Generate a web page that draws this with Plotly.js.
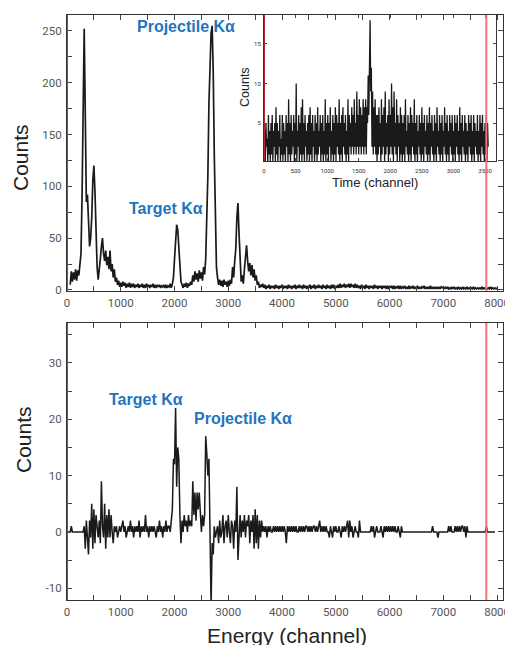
<!DOCTYPE html>
<html>
<head>
<meta charset="utf-8">
<script src="https://cdn.plot.ly/plotly-3.0.1.min.js"></script>
<style>
  html, body { margin: 0; padding: 0; background: #fff; }
  #chart { width: 505px; height: 645px; }
</style>
</head>
<body>
<div id="chart"></div>
<script>
// ---------- DATA ----------
// Top panel: energy spectrum, channels 60..8000 every 20 channels
const topStart = 60;
const topStep = 20;
const topCounts = [
  5,18,8,17,10,20,9,19,14,24,35,90,200,252,170,85,92,60,42,50,
  70,105,120,95,55,22,10,18,30,42,50,35,28,38,24,32,20,38,18,25,
  12,20,8,12,5,9,3,7,3,8,4,7,2,6,3,7,2,6,3,6,
  2,5,3,6,2,5,3,6,2,5,2,6,3,5,2,5,3,6,2,5,
  2,5,3,5,2,4,3,5,2,5,2,4,3,6,2,6,12,30,52,63,
  58,40,18,8,5,2,6,3,7,2,6,4,8,5,14,8,18,10,16,8,
  19,11,17,9,22,15,30,60,110,180,225,248,255,210,130,60,22,12,5,10,
  4,9,3,10,5,8,3,9,4,10,6,22,12,28,40,70,84,55,22,8,
  14,6,20,32,43,28,18,26,14,24,12,20,9,14,5,8,2,5,3,6,
  2,5,1,4,2,5,1,4,2,4,1,5,2,4,1,4,2,5,1,4,
  2,4,1,5,2,4,1,4,2,5,1,4,2,5,2,4,1,5,2,4,
  1,4,2,5,1,4,2,5,1,4,2,5,2,4,1,5,2,4,1,5,
  2,4,1,5,2,5,1,4,2,5,2,6,2,5,3,6,2,5,3,6,
  2,6,3,5,2,6,2,5,2,4,1,5,2,4,1,5,2,4,1,4,
  2,4,1,5,2,4,1,4,2,4,1,4,2,4,1,4,1,4,2,4,
  1,4,1,3,2,4,1,4,1,3,2,4,1,3,1,4,1,3,2,4,
  1,3,1,4,1,3,1,3,2,4,1,3,1,3,1,4,1,3,1,3,
  1,3,1,3,1,3,2,3,1,3,1,3,1,2,1,3,1,3,1,2,
  1,3,1,2,1,3,1,2,1,3,1,2,1,2,1,3,1,2,1,2,
  1,2,1,3,1,2,1,2,1,2,1,3,1,2,1,2,1,2
];

// Inset: time spectrum, channels 0..3550 every 10 channels
const insetStart = 0;
const insetStep = 10;
const insetCounts = [
  1,4,0,5,2,3,0,6,1,4,0,5,1,6,0,4,2,5,0,7,
  1,5,0,4,2,6,0,3,1,6,0,5,1,4,0,6,2,5,0,8,
  1,5,0,6,1,4,2,6,0,5,1,10,0,4,2,6,0,5,1,7,
  0,8,1,5,0,6,2,4,0,5,1,6,0,7,1,5,0,6,2,4,
  0,6,1,5,0,7,1,4,2,6,0,5,1,6,0,4,1,8,0,5,
  1,6,0,5,2,7,0,4,1,6,0,5,1,7,0,6,2,5,1,8,
  0,5,1,6,0,7,2,5,1,6,0,4,1,8,0,6,2,5,1,7,
  2,6,1,8,2,5,1,9,2,6,1,8,2,7,1,6,2,8,1,7,
  2,8,1,7,5,11,6,12,18,9,12,2,9,1,7,2,8,1,6,0,
  6,1,7,2,5,0,8,1,6,2,7,0,9,1,5,2,6,0,8,1,
  6,2,10,1,7,0,9,2,5,1,8,0,6,2,5,0,7,1,6,0,
  5,1,6,0,8,2,4,1,6,0,5,1,7,0,6,2,5,1,8,0,
  5,1,6,0,4,2,6,1,5,0,7,1,5,0,6,2,4,1,6,0,
  5,1,7,0,5,2,6,1,4,0,6,1,5,0,7,2,4,1,6,0,
  5,1,6,0,4,2,7,1,5,0,6,1,4,0,6,2,5,1,6,0,
  4,1,6,0,5,2,6,1,4,0,7,1,5,0,6,2,4,1,6,0,
  5,1,4,0,6,2,5,1,6,0,4,1,6,0,5,2,4,1,6,0,
  4,1,6,0,5,2,6,1,4,0,5,1,6,0,5,2
];

// Bottom panel: difference spectrum, channels 0..7960 every 20 channels
const diffStart = 0;
const diffStep = 20;
const diffCounts = [
  0,0,0,0,1,0,0,0,0,0,0,0,0,0,0,0,1,-3,2,-2,
  -4,2,-1,5,-3,4,-2,3,1,-1,2,-2,9,1,-1,5,-3,3,-1,4,
  -1,3,0,-2,1,0,1,-1,0,1,0,1,2,0,1,-1,0,1,0,2,
  0,1,-1,1,0,1,0,2,-1,1,0,1,0,3,0,1,-1,1,0,1,
  0,1,0,-1,1,0,2,0,1,-1,1,0,2,0,1,1,0,2,4,13,
  12,22,8,15,13,3,-2,2,0,3,1,2,0,3,1,2,1,9,3,7,
  2,7,4,7,3,0,3,1,3,17,14,10,13,3,-13,-2,-4,1,-1,0,
  1,-2,2,-1,0,3,-2,1,2,-1,3,0,-2,2,1,-3,2,0,8,-5,
  1,3,-1,2,0,3,-1,2,1,3,-2,2,0,3,-3,4,-2,3,-3,2,
  -1,2,0,1,0,1,-1,1,0,1,0,0,1,0,1,0,1,0,1,0,
  1,0,1,0,-2,1,0,1,0,1,0,1,0,1,0,0,1,0,1,0,
  1,0,1,1,0,1,0,1,0,1,1,0,1,0,1,2,0,1,0,1,
  0,1,0,0,-1,1,0,-1,1,0,1,0,0,1,0,-1,1,0,1,0,
  1,2,-1,2,0,1,-1,0,1,0,0,-1,2,0,0,0,0,0,0,0,
  0,0,0,1,0,1,-1,0,1,0,0,0,1,0,-1,1,0,1,0,1,
  0,1,0,1,0,1,0,0,1,0,-1,1,0,0,0,0,0,0,0,0,
  0,0,0,0,0,0,0,0,0,0,0,0,0,0,0,0,0,0,0,0,
  1,0,0,0,0,-1,0,0,0,0,0,0,0,0,0,1,0,1,0,0,
  0,1,0,1,0,1,0,1,1,0,1,-1,1,0,0,0,0,0,0,0,
  0,0,0,0,0,0,0,0,0,0,1,0,0,0,0,0,0,0,0
];

// Tick values and labels
const energyTickVals = [0,500,1000,1500,2000,2500,3000,3500,4000,4500,5000,5500,6000,6500,7000,7500,8000];
const energyTickText = ['0','','1000','','2000','','3000','','4000','','5000','','6000','','7000','','8000'];
const topCountTickVals = [0,25,50,75,100,125,150,175,200,225,250];
const topCountTickText = ['0','','50','','100','','150','','200','','250'];
const diffCountTickVals = [-10,-5,0,5,10,15,20,25,30,35];
const diffCountTickText = ['-10','','0','','10','','20','','30',''];
const insetTimeTickVals = [0,500,1000,1500,2000,2500,3000,3500];
const insetTimeTickText = ['0','500','1000','1500','2000','2500','3000','3500'];
const insetCountTickVals = [5,10,15];
const insetCountTickText = ['5','10','15'];

// Marker channels (red vertical lines)
const leftMarker = 0;
const rightMarker = 7800;

// ---------- BUILD ----------
const chan = (arr, start, step) => arr.map((_, i) => start + i * step);

const W = 505, H = 645;
const px = v => v / W;
const py = v => 1 - v / H;

const lineCol = '#1a1a1a';
const traces = [
  { x: chan(topCounts, topStart, topStep), y: topCounts, type: 'scatter', mode: 'lines',
    line: { color: lineCol, width: 1.7 }, xaxis: 'x', yaxis: 'y', hoverinfo: 'skip' },
  { x: chan(diffCounts, diffStart, diffStep), y: diffCounts, type: 'scatter', mode: 'lines',
    line: { color: lineCol, width: 1.5 }, xaxis: 'x2', yaxis: 'y2', hoverinfo: 'skip' },
  { x: chan(insetCounts, insetStart, insetStep), y: insetCounts, type: 'scatter', mode: 'lines',
    line: { color: lineCol, width: 1.3 }, xaxis: 'x3', yaxis: 'y3', hoverinfo: 'skip' }
];

const tickFont = { family: 'Roboto, DejaVu Sans, sans-serif', size: 11.5, color: '#555' };
const axisCommon = {
  showline: true, linecolor: '#333', linewidth: 1, mirror: 'ticks',
  ticks: 'inside', ticklen: 5, tickcolor: '#444', tickwidth: 1,
  showgrid: false, zeroline: false, tickfont: tickFont, fixedrange: true,
  ticklabeloverflow: 'allow'
};

const layout = {
  width: W, height: H,
  margin: { l: 0, r: 0, t: 0, b: 0 },
  paper_bgcolor: '#fff', plot_bgcolor: 'rgba(0,0,0,0)',
  showlegend: false,
  xaxis: Object.assign({}, axisCommon, {
    domain: [px(67), px(503)], range: [0, 8110], anchor: 'y',
    tickmode: 'array', tickvals: energyTickVals, ticktext: energyTickText, ticklabelstandoff: 1
  }),
  yaxis: Object.assign({}, axisCommon, {
    domain: [py(291), py(15)], range: [-1, 265.4], anchor: 'x',
    tickmode: 'array', tickvals: topCountTickVals, ticktext: topCountTickText, ticklabelstandoff: 2
  }),
  xaxis2: Object.assign({}, axisCommon, {
    domain: [px(67), px(503)], range: [0, 8110], anchor: 'y2',
    tickmode: 'array', tickvals: energyTickVals, ticktext: energyTickText, ticklabelstandoff: 1
  }),
  yaxis2: Object.assign({}, axisCommon, {
    domain: [py(600), py(323)], range: [-12.1, 37.1], anchor: 'x2',
    tickmode: 'array', tickvals: diffCountTickVals, ticktext: diffCountTickText, ticklabelstandoff: 2
  }),
  xaxis3: Object.assign({}, axisCommon, {
    domain: [px(264), px(496)], range: [0, 3674], anchor: 'y3',
    ticklen: 3, tickfont: { family: 'Roboto, DejaVu Sans, sans-serif', size: 6, color: '#333' },
    tickmode: 'array', tickvals: insetTimeTickVals, ticktext: insetTimeTickText, ticklabelstandoff: 4
  }),
  yaxis3: Object.assign({}, axisCommon, {
    domain: [py(161), py(15)], range: [0.19, 18.67], anchor: 'x3',
    ticklen: 3, tickfont: { family: 'Roboto, DejaVu Sans, sans-serif', size: 6, color: '#333' },
    tickmode: 'array', tickvals: insetCountTickVals, ticktext: insetCountTickText, ticklabelstandoff: 1
  }),
  shapes: [
    { type: 'line', xref: 'x', yref: 'y domain', x0: leftMarker, x1: leftMarker, y0: 0, y1: 1,
      line: { color: '#e3262a', width: 2 }, layer: 'above' },
    { type: 'line', xref: 'x', yref: 'y domain', x0: rightMarker, x1: rightMarker, y0: 0, y1: 1,
      line: { color: '#f07272', width: 2 }, layer: 'above' },
    { type: 'line', xref: 'x2', yref: 'y2 domain', x0: leftMarker, x1: leftMarker, y0: 0, y1: 1,
      line: { color: '#a8403c', width: 2 }, layer: 'above' },
    { type: 'line', xref: 'x2', yref: 'y2 domain', x0: rightMarker, x1: rightMarker, y0: 0, y1: 1,
      line: { color: '#f07272', width: 2 }, layer: 'above' },
    { type: 'line', xref: 'x3', yref: 'y3 domain', x0: 0, x1: 0, y0: 0, y1: 1,
      line: { color: '#b02a2a', width: 2 }, layer: 'above' }
  ],
  annotations: [
    { text: 'Projectile Kα', xref: 'paper', yref: 'paper', x: px(186), y: py(27),
      xanchor: 'center', yanchor: 'middle', showarrow: false,
      font: { family: 'Liberation Sans, Arial, sans-serif', size: 16, weight: 'bold', color: '#1f74bf' } },
    { text: 'Target Kα', xref: 'paper', yref: 'paper', x: px(166), y: py(208),
      xanchor: 'center', yanchor: 'middle', showarrow: false,
      font: { family: 'Liberation Sans, Arial, sans-serif', size: 16, weight: 'bold', color: '#1f74bf' } },
    { text: 'Target Kα', xref: 'paper', yref: 'paper', x: px(146), y: py(399),
      xanchor: 'center', yanchor: 'middle', showarrow: false,
      font: { family: 'Liberation Sans, Arial, sans-serif', size: 16, weight: 'bold', color: '#1f74bf' } },
    { text: 'Projectile Kα', xref: 'paper', yref: 'paper', x: px(243), y: py(418),
      xanchor: 'center', yanchor: 'middle', showarrow: false,
      font: { family: 'Liberation Sans, Arial, sans-serif', size: 16, weight: 'bold', color: '#1f74bf' } },
    { text: 'Counts', xref: 'paper', yref: 'paper', x: px(21), y: py(158), textangle: -90,
      xanchor: 'center', yanchor: 'middle', showarrow: false,
      font: { family: 'Liberation Sans, Arial, sans-serif', size: 21, color: '#222' } },
    { text: 'Counts', xref: 'paper', yref: 'paper', x: px(23), y: py(440), textangle: -90,
      xanchor: 'center', yanchor: 'middle', showarrow: false,
      font: { family: 'Liberation Sans, Arial, sans-serif', size: 21, color: '#222' } },
    { text: 'Energy (channel)', xref: 'paper', yref: 'paper', x: px(287), y: py(635),
      xanchor: 'center', yanchor: 'middle', showarrow: false,
      font: { family: 'Liberation Sans, Arial, sans-serif', size: 21, color: '#222' } },
    { text: 'Time (channel)', xref: 'paper', yref: 'paper', x: px(375), y: py(183),
      xanchor: 'center', yanchor: 'middle', showarrow: false,
      font: { family: 'Liberation Sans, Arial, sans-serif', size: 13, color: '#222' } },
    { text: 'Counts', xref: 'paper', yref: 'paper', x: px(245), y: py(87), textangle: -90,
      xanchor: 'center', yanchor: 'middle', showarrow: false,
      font: { family: 'Liberation Sans, Arial, sans-serif', size: 12.5, color: '#222' } }
  ]
};

Plotly.newPlot('chart', traces, layout, { displayModeBar: false, staticPlot: true });
</script>
</body>
</html>
